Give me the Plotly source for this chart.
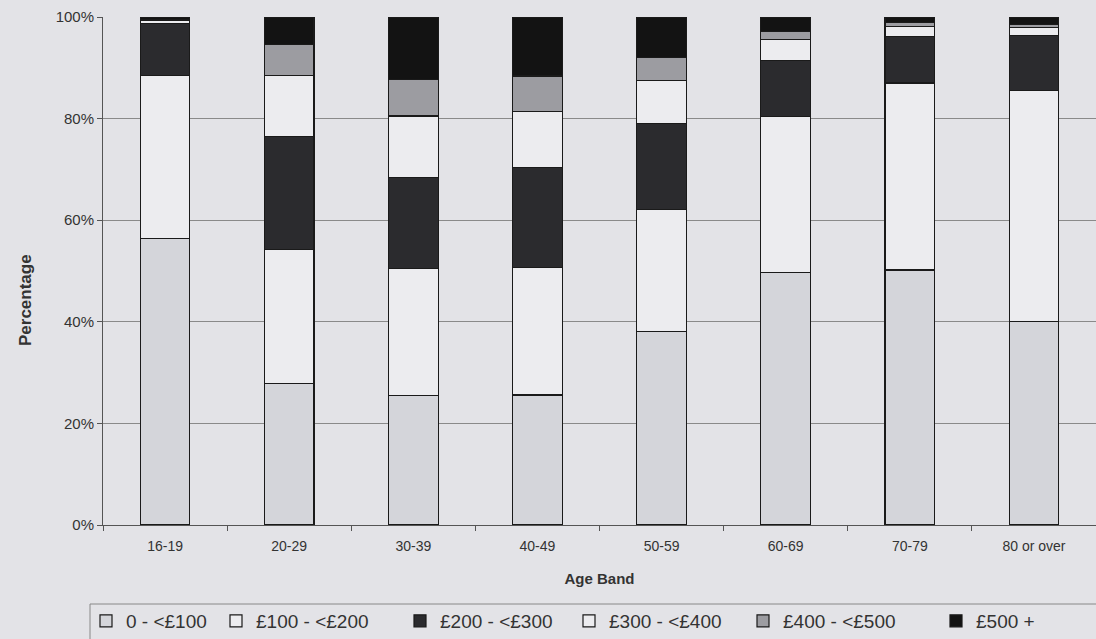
import plotly.graph_objects as go

age_bands = ["16-19", "20-29", "30-39", "40-49", "50-59", "60-69", "70-79", "80 or over"]
series_names = ["0 - <£100", "£100 - <£200", "£200 - <£300", "£300 - <£400", "£400 - <£500", "£500 +"]

s_0_100 =   [56.4, 27.8, 25.5, 25.6, 38.1, 49.7, 50.2, 40.0]
s_100_200 = [32.1, 26.5, 25.0, 25.1, 24.0, 30.7, 36.8, 45.5]
s_200_300 = [10.2, 22.1, 17.9, 19.6, 17.0, 11.0, 9.1, 10.8]
s_300_400 = [0.7, 12.1, 12.1, 11.1, 8.4, 4.2, 2.0, 1.7]
s_400_500 = [0.0, 6.1, 7.2, 7.0, 4.6, 1.5, 0.8, 0.6]
s_500_up =  [0.6, 5.4, 12.3, 11.6, 7.9, 2.9, 1.1, 1.4]

series_values = [s_0_100, s_100_200, s_200_300, s_300_400, s_400_500, s_500_up]
colors = ["#d4d5da", "#ececef", "#2b2b2e", "#ececef", "#9c9ca1", "#131313"]

BG = "#e3e3e7"
FONT = "Liberation Sans, Arial, sans-serif"
TXT = "#333333"

W, H = 1096, 639
L, R, T, B = 103, 0, 17, 114
PW, PH = W - L - R, H - T - B

def px_x(x):
    return (x - L) / PW

def px_y(y):
    return (H - B - y) / PH

# legend text start positions (pixels)
legend_text_x = [126, 256, 440, 609, 783, 976]

fig = go.Figure()
for i, (name, vals, col) in enumerate(zip(series_names, series_values, colors)):
    lg = "legend" if i == 0 else f"legend{i+1}"
    fig.add_trace(go.Bar(
        x=age_bands, y=vals, name=name, legend=lg,
        marker=dict(color=col, line=dict(color="#1a1a1a", width=1.2)),
    ))

legend_layouts = {}
for i, tx in enumerate(legend_text_x):
    key = "legend" if i == 0 else f"legend{i+1}"
    legend_layouts[key] = dict(
        orientation="h", x=px_x(tx - 40), xanchor="left",
        y=px_y(621), yanchor="middle",
        font=dict(family=FONT, size=19, color=TXT),
        bgcolor="rgba(0,0,0,0)", borderwidth=0, itemwidth=30,
    )

fig.update_layout(
    barmode="stack",
    bargap=0.6,
    width=W, height=H,
    margin=dict(l=L, r=R, t=T, b=B, pad=0, autoexpand=False),
    paper_bgcolor=BG, plot_bgcolor=BG,
    font=dict(family=FONT, size=14, color=TXT),
    showlegend=True,
    shapes=[dict(
        type="rect", xref="paper", yref="paper",
        x0=px_x(90), x1=px_x(1110), y0=px_y(604), y1=px_y(650),
        line=dict(color="#888888", width=1), fillcolor="rgba(0,0,0,0)", layer="below",
    )],
    annotations=[dict(
        text="<b>Percentage</b>", textangle=-90, xref="paper", yref="paper",
        x=px_x(25), y=px_y(300), xanchor="center", yanchor="middle",
        showarrow=False, font=dict(family=FONT, size=17, color=TXT),
    )],
    **legend_layouts,
)

fig.update_xaxes(
    title=dict(text="<b>Age Band</b>", font=dict(size=15, color=TXT), standoff=20),
    showgrid=False, showline=True, linecolor="#555555", linewidth=1,
    ticks="outside", ticklen=5, tickcolor="#555555", tickson="boundaries",
    ticklabelstandoff=8,
    tickfont=dict(size=14, color=TXT),
)
fig.update_yaxes(
    range=[0, 100], tickvals=[0, 20, 40, 60, 80, 100],
    ticktext=["0%", "20%", "40%", "60%", "80%", "100%"],
    showgrid=True, gridcolor="#8a8a8a", gridwidth=1,
    showline=True, linecolor="#555555", linewidth=1,
    ticks="outside", ticklen=5, tickcolor="#555555",
    tickfont=dict(size=15, color=TXT), zeroline=False,
)

fig.write_html("out.html")
